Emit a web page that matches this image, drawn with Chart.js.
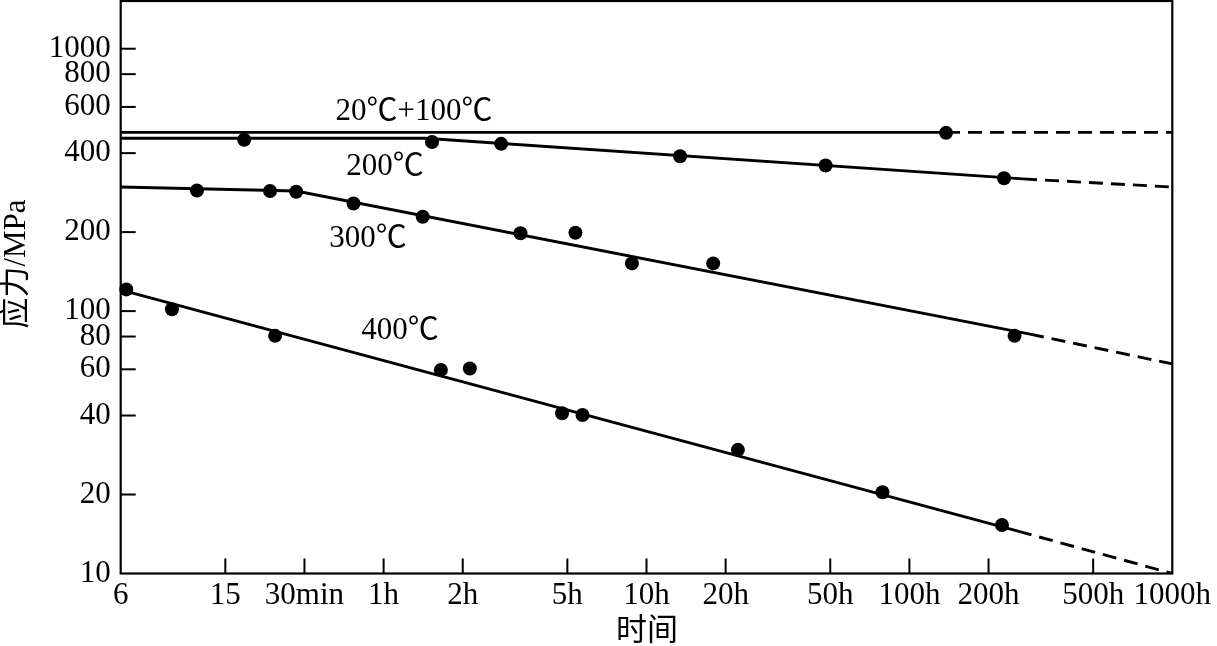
<!DOCTYPE html>
<html>
<head>
<meta charset="utf-8">
<script src="https://cdn.jsdelivr.net/npm/chart.js@4/dist/chart.umd.min.js"></script>
<style>
  html, body { margin: 0; padding: 0; background: #fff; }
</style>
</head>
<body>
<canvas id="stressChart" width="1217" height="646"></canvas>
<script>
// --- axis ticks (time in minutes, stress in MPa) ---
const xTickValues = [6, 15, 30, 60, 120, 300, 600, 1200, 3000, 6000, 12000, 30000, 60000];
const xTickLabels = ['6', '15', '30min', '1h', '2h', '5h', '10h', '20h', '50h', '100h', '200h', '500h', '1000h'];
const yTickValues = [10, 20, 40, 60, 80, 100, 200, 400, 600, 800, 1000];

// --- 20℃+100℃ ---
const t20Fit = [6, 8270];
const s20Fit = [480, 480];
const t20Ext = [8270, 60000];
const s20Ext = [480, 480];
const t20Pts = [8270];
const s20Pts = [478];

// --- 200℃ ---
const t200Fit = [6, 86, 16230];
const s200Fit = [456, 456, 319];
const t200Ext = [16230, 60000];
const s200Ext = [319, 297];
const t200Pts = [17.7, 91.7, 168, 805, 2880, 13740];
const s200Pts = [450, 441, 434, 389, 359, 321];

// --- 300℃ ---
const t300Fit = [6, 27.9, 17250];
const s300Fit = [297, 287, 81.7];
const t300Ext = [17250, 60000];
const s300Ext = [81.7, 62.9];
const t300Pts = [11.7, 22.2, 27.9, 46.1, 84.5, 199, 322, 528, 1076, 15070];
const s300Pts = [288, 287, 285, 257, 229, 198, 199, 152, 152, 80.5];

// --- 400℃ ---
const t400Fit = [6, 15530];
const s400Fit = [120.5, 14.5];
const t400Ext = [15530, 60000];
const s400Ext = [14.5, 10];
const t400Pts = [6.3, 9.4, 23.2, 99.1, 127.7, 286.5, 342.6, 1336, 4740, 13500];
const s400Pts = [121, 101.7, 80.5, 59.7, 60.4, 40.8, 40.2, 29.6, 20.4, 15.3];

// --- curve labels ---
const labelTexts = ['20℃+100℃', '200℃', '300℃', '400℃'];
const labelT = [78.3, 60.7, 52.3, 69.2];
const labelS = [575, 355, 189, 84];

const FONT = "'Liberation Serif', 'Noto Sans CJK SC', serif";

function toXY(ts, ss) {
    return ts.map((t, i) => ({ x: t, y: ss[i] }));
}

function lineSet(ts, ss, dashed) {
    return {
        data: toXY(ts, ss),
        showLine: true,
        borderColor: '#000',
        borderWidth: 2.9,
        borderDash: dashed ? [14, 8] : [],
        pointRadius: 0,
        fill: false,
        tension: 0
    };
}

function pointSet(ts, ss) {
    return {
        data: toXY(ts, ss),
        showLine: false,
        pointRadius: 7,
        pointBackgroundColor: '#000',
        pointBorderWidth: 0,
        clip: false
    };
}

// frame, inward tick marks, curve labels and axis titles
const decor = {
    id: 'decor',
    afterDraw(chart) {
        const { ctx, chartArea: a, scales: { x, y } } = chart;
        ctx.save();
        ctx.strokeStyle = '#000';
        ctx.lineWidth = 2;
        yTickValues.slice(1).forEach(v => {
            const py = y.getPixelForValue(v);
            ctx.beginPath(); ctx.moveTo(a.left, py); ctx.lineTo(a.left + 15, py); ctx.stroke();
        });
        xTickValues.slice(1, -1).forEach(v => {
            const px = x.getPixelForValue(v);
            ctx.beginPath(); ctx.moveTo(px, a.bottom); ctx.lineTo(px, a.bottom - 15); ctx.stroke();
        });
        ctx.lineWidth = 2.2;
        ctx.strokeRect(a.left, a.top, a.right - a.left, a.bottom - a.top);

        ctx.fillStyle = '#000';
        ctx.font = '31px ' + FONT;
        ctx.textAlign = 'center';
        ctx.textBaseline = 'middle';
        labelTexts.forEach((txt, i) => {
            ctx.fillText(txt, x.getPixelForValue(labelT[i]), y.getPixelForValue(labelS[i]));
        });

        ctx.fillText('时间', 647, 632);
        ctx.translate(17, 264);
        ctx.rotate(-Math.PI / 2);
        ctx.fillText('应力/MPa', 0, 0);
        ctx.restore();
    }
};

const ctx = document.getElementById('stressChart').getContext('2d');

new Chart(ctx, {
    type: 'scatter',
    data: {
        datasets: [
            lineSet(t20Fit, s20Fit, false), lineSet(t20Ext, s20Ext, true), pointSet(t20Pts, s20Pts),
            lineSet(t200Fit, s200Fit, false), lineSet(t200Ext, s200Ext, true), pointSet(t200Pts, s200Pts),
            lineSet(t300Fit, s300Fit, false), lineSet(t300Ext, s300Ext, true), pointSet(t300Pts, s300Pts),
            lineSet(t400Fit, s400Fit, false), lineSet(t400Ext, s400Ext, true), pointSet(t400Pts, s400Pts)
        ]
    },
    options: {
        responsive: false,
        animation: false,
        layout: { autoPadding: false, padding: { top: 1, right: 44.7, bottom: 0, left: 0 } },
        plugins: { legend: { display: false }, tooltip: { enabled: false } },
        scales: {
            x: {
                type: 'logarithmic',
                min: 6,
                max: 60000,
                afterBuildTicks: s => { s.ticks = xTickValues.map(v => ({ value: v })); },
                afterFit: s => { s.height = 72.5; s.paddingLeft = 0; s.paddingRight = 0; },
                grid: { display: false, drawTicks: false },
                border: { display: false },
                ticks: {
                    autoSkip: false,
                    maxRotation: 0,
                    padding: 4,
                    color: '#000',
                    font: { family: FONT, size: 31 },
                    callback: v => xTickLabels[xTickValues.indexOf(v)]
                }
            },
            y: {
                type: 'logarithmic',
                min: 10,
                max: 1520,
                afterBuildTicks: s => { s.ticks = yTickValues.map(v => ({ value: v })); },
                afterFit: s => { s.width = 120.7; s.paddingTop = 0; s.paddingBottom = 0; },
                grid: { display: false, drawTicks: false },
                border: { display: false },
                ticks: {
                    autoSkip: false,
                    padding: 10,
                    color: '#000',
                    font: { family: FONT, size: 31 },
                    callback: v => String(v)
                }
            }
        }
    },
    plugins: [decor]
});
</script>
</body>
</html>
